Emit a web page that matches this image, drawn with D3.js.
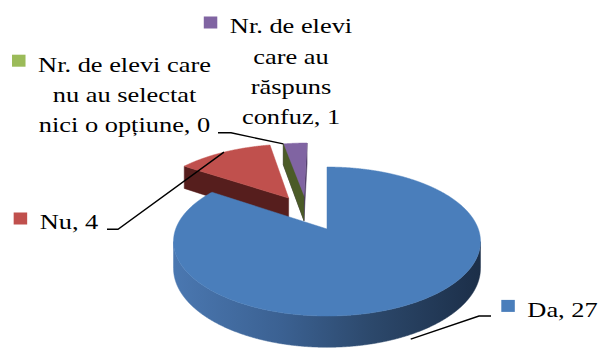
<!DOCTYPE html>
<html>
<head>
<meta charset="utf-8">
<script src="https://cdn.jsdelivr.net/npm/d3@7"></script>
<style>
  html, body { margin: 0; padding: 0; background: #ffffff; }
  svg { display: block; }
</style>
</head>
<body>
<svg id="chart" width="600" height="349"></svg>
<script>
// ---- data ----
const categories = [
  "Da",
  "Nu",
  "Nr. de elevi care nu au selectat nici o opțiune",
  "Nr. de elevi care au răspuns confuz"
];
const values = [27, 4, 0, 1];

// ---- styling / layout ----
const topColors  = ["#4A7EBB", "#C0504D", "#9BBB59", "#8064A2"];
const sideColors = ["#2E4B72", "#561E1D", "#4B5B27", "#4D3B63"];
// how far each slice is pulled out (radius units) and in which direction (deg, clockwise from 12 o'clock)
const explodeDist = [0, 0.535, 0.511, 0.511];
const explodeDir  = [0, 329.3, 341.2, 341.2];
// label block: centre x, first baseline y, wrap width
const labelX = [562.5, 69, 124.5, 291];
const labelY = [316.7, 229.3, 71.5, 33.3];
const labelWrap = [300, 300, 182, 130];
// leader lines: start x, start y, elbow x (null = no leader)
const leaderStart = [[491, 316, 479], [107, 229.3, 118], [218, 132.8, 231], null];
// height on the slice where the leader touches (0 = top face rim, 1 = bottom rim)
const leaderDepth = [1.15, 0, 0, 0];

const fontFamily = "'Liberation Serif', 'Times New Roman', serif";
const fontSize = 22;
const stretchX = 1.2;
const lineHeight = 30.3;

// ---- 3D projection of the pie plane ----
const cx = 327, cy = 229;      // projected centre
const A = 151.3, B = 72.4;     // horizontal / depth radius
const D = 26;                  // thickness
const k = 0.168;               // perspective strength
const camV = 1 / k;            // camera ground position (plane units)

const xs = d3.scaleLinear().domain([0, 1]).range([cx, cx + A]);
const ys = d3.scaleLinear().domain([0, 1]).range([cy, cy + B]);

function proj(u, v, h) {
  const w = 1 - k * v;
  return [xs(u / w), ys((v + h * D / B) / w)];
}

const svg = d3.select("#chart");
const defs = svg.append("defs");

const grad = defs.append("linearGradient")
  .attr("id", "daWall")
  .attr("gradientUnits", "userSpaceOnUse")
  .attr("x1", xs(-1)).attr("x2", xs(1)).attr("y1", 0).attr("y2", 0);
[[0, "#4A77B0"], [0.35, "#3B6192"], [0.65, "#2C486B"], [1, "#1C2F49"]].forEach(([o, c]) =>
  grad.append("stop").attr("offset", o).attr("stop-color", c));

const pie = d3.pie().sort(null).value(d => d).startAngle(0).endAngle(2 * Math.PI);
const arcs = pie(values);

const slices = arcs.map((a, i) => {
  const dir = explodeDir[i] * Math.PI / 180;
  return {
    i,
    a0: a.startAngle,
    a1: a.endAngle,
    mid: (a.startAngle + a.endAngle) / 2,
    ou: explodeDist[i] * Math.sin(dir),
    ov: -explodeDist[i] * Math.cos(dir)
  };
});

function pt(s, ang, r, h) {
  return proj(s.ou + r * Math.sin(ang), s.ov - r * Math.cos(ang), h);
}

const poly = d3.line().curve(d3.curveLinearClosed);

function faceVisible(s, ang, side) {
  // outward normal of a radial face: start face points back (-90deg), end face forward (+90deg)
  const na = ang + side * Math.PI / 2;
  const nu = Math.sin(na), nv = -Math.cos(na);
  return nu * (0 - s.ou) + nv * (camV - s.ov) > 1e-6;
}

function drawSlice(s) {
  const g = svg.append("g").attr("class", "slice-" + s.i);
  const side = s.i === 0 ? "url(#daWall)" : sideColors[s.i];

  // radial faces
  [[s.a0, -1], [s.a1, 1]].forEach(([ang, sd]) => {
    if (!faceVisible(s, ang, sd)) return;
    const pts = [pt(s, ang, 0, 0), pt(s, ang, 1, 0), pt(s, ang, 1, 1), pt(s, ang, 0, 1)];
    g.append("path").attr("d", poly(pts))
      .attr("fill", sideColors[s.i]).attr("stroke", sideColors[s.i]).attr("stroke-width", 0.5);
  });

  // outer wall, only the parts turned towards the camera
  if (s.a1 > s.a0) {
    const n = Math.max(2, Math.ceil((s.a1 - s.a0) / (Math.PI / 720)));
    const angs = d3.range(n + 1).map(j => s.a0 + (s.a1 - s.a0) * j / n);
    const runs = [];
    let cur = null;
    angs.forEach(a => {
      const pu = s.ou + Math.sin(a), pv = s.ov - Math.cos(a);
      const vis = Math.sin(a) * (0 - pu) + (-Math.cos(a)) * (camV - pv) > 0;
      if (vis) { if (!cur) { cur = []; runs.push(cur); } cur.push(a); }
      else cur = null;
    });
    runs.forEach(run => {
      if (run.length < 2) return;
      const pts = run.map(a => pt(s, a, 1, 0)).concat(run.slice().reverse().map(a => pt(s, a, 1, 1)));
      g.append("path").attr("d", poly(pts))
        .attr("fill", side).attr("stroke", side).attr("stroke-width", 0.5);
    });

    // top face
    const top = [pt(s, 0, 0, 0)].concat(angs.map(a => pt(s, a, 1, 0)));
    g.append("path").attr("d", poly(top))
      .attr("fill", topColors[s.i]).attr("stroke", topColors[s.i]).attr("stroke-width", 0.5);
  }
}

// back to front
[1, 3, 2, 0].forEach(i => drawSlice(slices[i]));

// ---- leader lines ----
const leaderLine = d3.line();
slices.forEach(s => {
  const ls = leaderStart[s.i];
  if (!ls) return;
  const end = pt(s, s.mid, 1, leaderDepth[s.i]);
  svg.append("path")
    .attr("d", leaderLine([[ls[0], ls[1]], [ls[2], ls[1]], end]))
    .attr("fill", "none").attr("stroke", "#000").attr("stroke-width", 1.4);
});

// ---- data labels with legend keys ----
const measurer = svg.append("text")
  .attr("font-family", fontFamily).attr("font-size", fontSize)
  .attr("visibility", "hidden");
function textWidth(str) { measurer.text(str); return measurer.node().getComputedTextLength(); }

function wrapLines(str, maxW) {
  const words = str.split(" ");
  const lines = [];
  let line = "";
  words.forEach(w => {
    const test = line ? line + " " + w : w;
    if (line && textWidth(test) * stretchX > maxW) { lines.push(line); line = w; }
    else line = test;
  });
  if (line) lines.push(line);
  return lines;
}

categories.forEach((c, i) => {
  const label = c + ", " + values[i];
  const lines = wrapLines(label, labelWrap[i]);
  const g = svg.append("g")
    .attr("transform", `translate(${labelX[i]},${labelY[i]}) scale(${stretchX},1)`);
  const t = g.append("text")
    .attr("font-family", fontFamily).attr("font-size", fontSize)
    .attr("fill", "#000").attr("text-anchor", "middle");
  lines.forEach((ln, j) => {
    t.append("tspan").attr("x", 0).attr("y", j * lineHeight).text(ln);
  });
  const firstW = textWidth(lines[0]) * stretchX;
  const keyW = 13.5, keyH = 12;
  svg.append("rect")
    .attr("x", labelX[i] - firstW / 2 - 12.5 - keyW)
    .attr("y", labelY[i] - 16.8)
    .attr("width", keyW).attr("height", keyH)
    .attr("fill", topColors[i]);
});
measurer.remove();
</script>
</body>
</html>
